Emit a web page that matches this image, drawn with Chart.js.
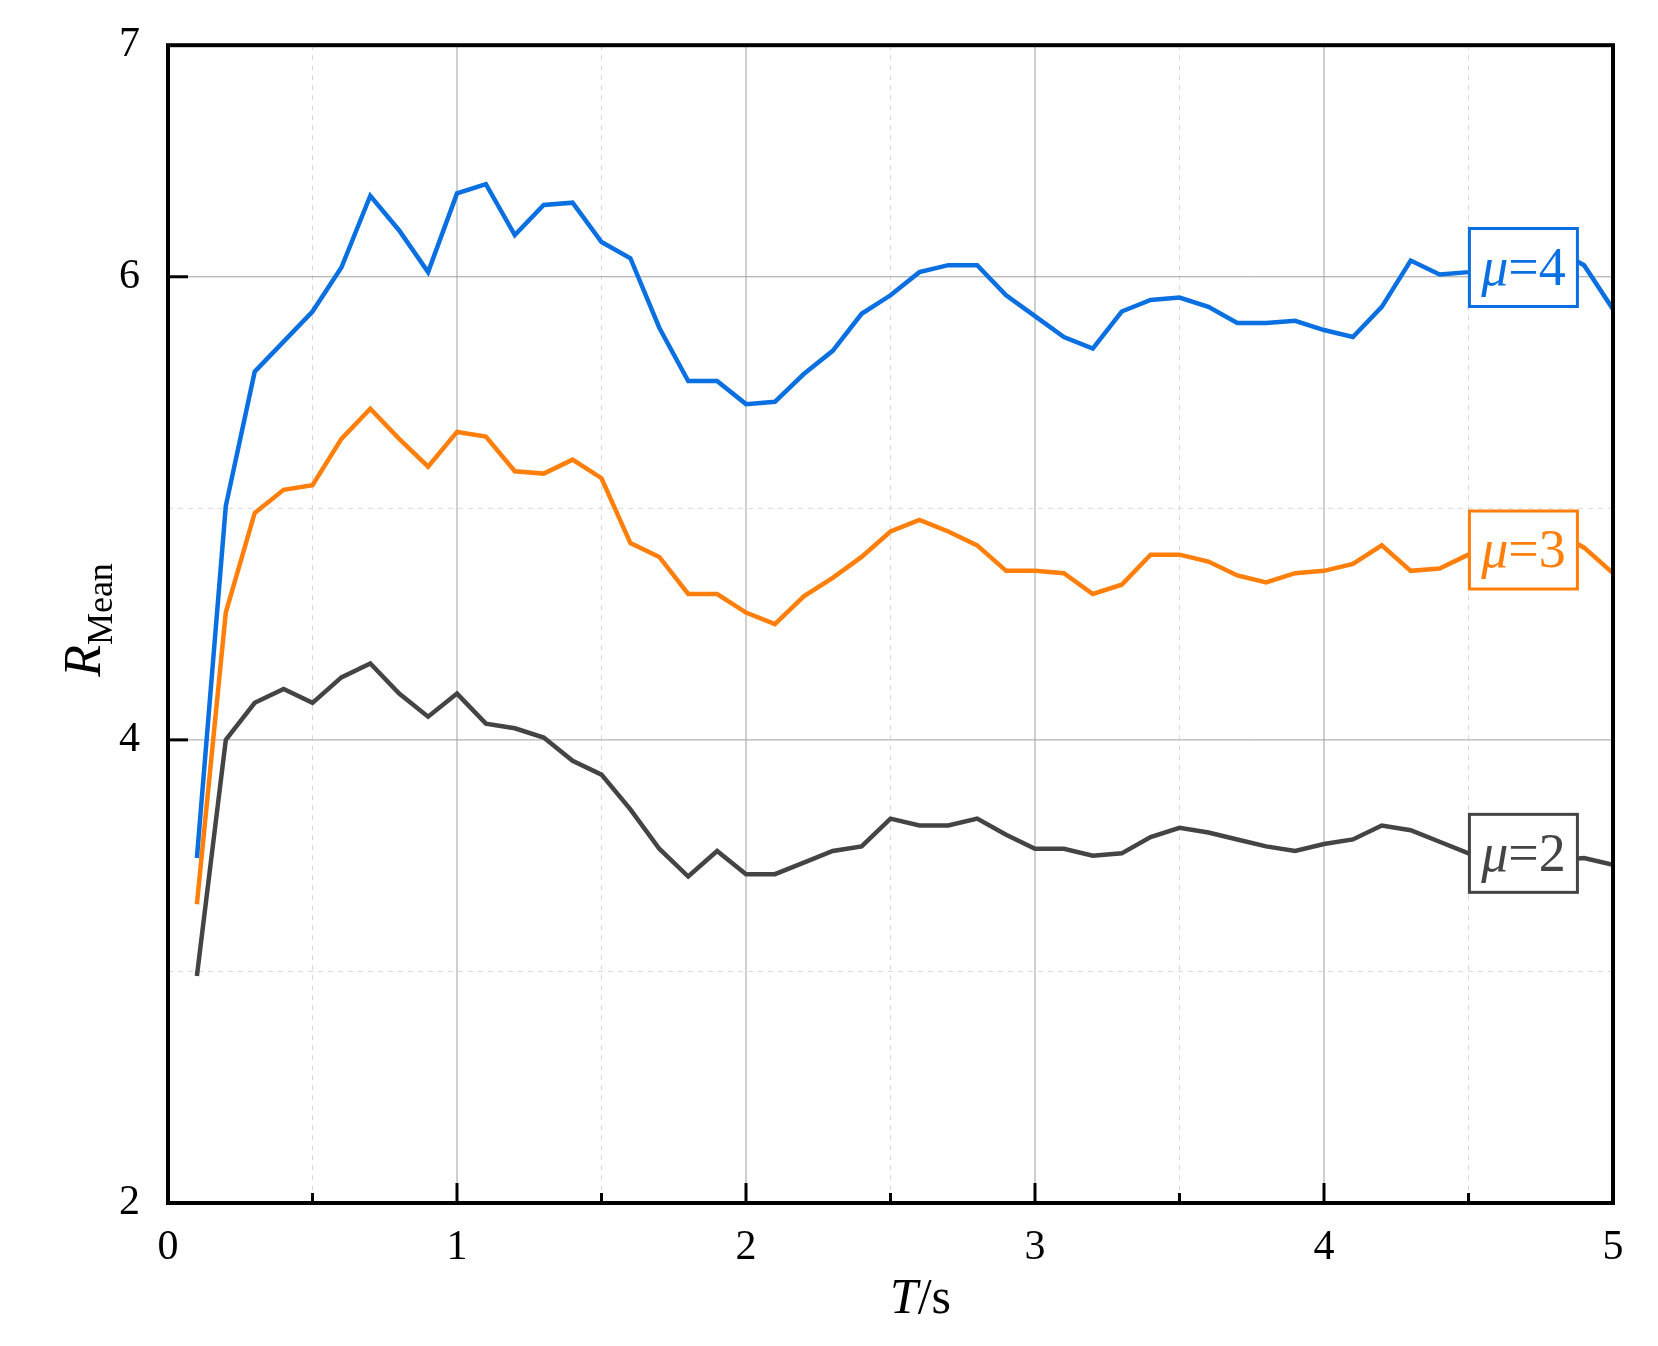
<!DOCTYPE html>
<html>
<head>
<meta charset="utf-8">
<script src="https://cdn.jsdelivr.net/npm/chart.js@4"></script>
<style>
  body { margin: 0; background: #fff; font-family: "Liberation Serif"; }
  #wrap { width: 1658px; height: 1346px; }
</style>
</head>
<body>
<div id="wrap"><canvas id="myChart"></canvas></div>
<script>
const times = [0.1,0.2,0.3,0.4,0.5,0.6,0.7,0.8,0.9,1.0,1.1,1.2,1.3,1.4,1.5,1.6,1.7,1.8,1.9,2.0,
  2.1,2.2,2.3,2.4,2.5,2.6,2.7,2.8,2.9,3.0,3.1,3.2,3.3,3.4,3.5,3.6,3.7,3.8,3.9,4.0,
  4.1,4.2,4.3,4.4,4.5,4.6,4.7,4.8,4.9,5.0];
const mu4 = [3.49,5.01,5.59,5.72,5.85,6.04,6.35,6.20,6.02,6.36,6.40,6.18,6.31,6.32,6.15,6.08,5.78,5.55,5.55,5.45,
  5.46,5.58,5.68,5.84,5.92,6.02,6.05,6.05,5.92,5.83,5.74,5.69,5.85,5.90,5.91,5.87,5.80,5.80,5.81,5.77,
  5.74,5.87,6.07,6.01,6.02,6.05,6.10,6.12,6.05,5.86];
const mu3 = [3.29,4.55,4.98,5.08,5.10,5.30,5.43,5.30,5.18,5.33,5.31,5.16,5.15,5.21,5.13,4.85,4.79,4.63,4.63,4.55,
  4.50,4.62,4.70,4.79,4.90,4.95,4.90,4.84,4.73,4.73,4.72,4.63,4.67,4.80,4.80,4.77,4.71,4.68,4.72,4.73,
  4.76,4.84,4.73,4.74,4.80,4.86,4.90,4.90,4.83,4.72];
const mu2 = [2.98,4.00,4.16,4.22,4.16,4.27,4.33,4.20,4.10,4.20,4.07,4.05,4.01,3.91,3.85,3.70,3.53,3.41,3.52,3.42,
  3.42,3.47,3.52,3.54,3.66,3.63,3.63,3.66,3.59,3.53,3.53,3.50,3.51,3.58,3.62,3.60,3.57,3.54,3.52,3.55,
  3.57,3.63,3.61,3.56,3.51,3.48,3.49,3.48,3.49,3.46];
const seriesLabels = ['μ=4', 'μ=3', 'μ=2'];
const labelPos = [[4.69, 6.04], [4.69, 4.82], [4.69, 3.51]];
const colors = ['#0a6fe0', '#ff7f0a', '#444444'];
const yTickLabels = [2, 4, 6, 7];

const serif = '"Liberation Serif", "Times New Roman", serif';

const framePlugin = {
  id: 'frame',
  beforeDatasetsDraw(chart) {
    const { ctx, chartArea: a, scales: { x, y } } = chart;
    ctx.save();
    ctx.lineWidth = 1;
    for (let v = 0.5; v < 5; v += 0.5) {
      const px = x.getPixelForValue(v);
      const major = Math.abs(v - Math.round(v)) < 1e-6;
      ctx.strokeStyle = major ? '#a0a0a0' : '#d8d8d8';
      ctx.setLineDash(major ? [] : [5, 5]);
      ctx.beginPath(); ctx.moveTo(px, a.top); ctx.lineTo(px, a.bottom); ctx.stroke();
    }
    for (let v = 3; v < 7; v++) {
      const py = y.getPixelForValue(v);
      const major = v % 2 === 0;
      ctx.strokeStyle = major ? '#a0a0a0' : '#d8d8d8';
      ctx.setLineDash(major ? [] : [5, 5]);
      ctx.beginPath(); ctx.moveTo(a.left, py); ctx.lineTo(a.right, py); ctx.stroke();
    }
    ctx.restore();
  },
  afterDatasetsDraw(chart) {
    const { ctx, chartArea: a, scales: { x, y } } = chart;
    ctx.save();
    // boxed labels
    ctx.textBaseline = 'middle';
    seriesLabels.forEach((t, i) => {
      const cx = x.getPixelForValue(labelPos[i][0]);
      const cy = y.getPixelForValue(labelPos[i][1]);
      const w = 108, h = 78;
      ctx.fillStyle = '#fff';
      ctx.fillRect(cx - w / 2, cy - h / 2, w, h);
      ctx.strokeStyle = colors[i];
      ctx.lineWidth = 3;
      ctx.strokeRect(cx - w / 2, cy - h / 2, w, h);
      ctx.fillStyle = colors[i];
      ctx.font = 'italic 54px ' + serif;
      const mw = ctx.measureText('μ').width;
      ctx.font = '54px ' + serif;
      const rw = ctx.measureText('=' + t.slice(2)).width;
      let sx = cx - (mw + rw) / 2;
      ctx.font = 'italic 54px ' + serif;
      ctx.fillText('μ', sx, cy + 3);
      ctx.font = '54px ' + serif;
      ctx.fillText('=' + t.slice(2), sx + mw, cy + 3);
    });
    // frame
    ctx.strokeStyle = '#000';
    ctx.lineWidth = 4;
    ctx.strokeRect(a.left, a.top, a.right - a.left, a.bottom - a.top);
    // ticks
    ctx.lineWidth = 3;
    for (let v = 0.5; v < 5; v += 0.5) {
      const px = x.getPixelForValue(v);
      const len = Math.abs(v - Math.round(v)) < 1e-6 ? 20 : 10;
      ctx.beginPath(); ctx.moveTo(px, a.bottom); ctx.lineTo(px, a.bottom - len); ctx.stroke();
    }
    [4, 6].forEach(v => {
      const py = y.getPixelForValue(v);
      ctx.beginPath(); ctx.moveTo(a.left, py); ctx.lineTo(a.left + 20, py); ctx.stroke();
    });
    // axis titles
    ctx.fillStyle = '#000';
    ctx.textBaseline = 'alphabetic';
    ctx.font = 'italic 50px ' + serif;
    const tw = ctx.measureText('T').width;
    ctx.font = '50px ' + serif;
    const sw = ctx.measureText('/s').width;
    const cx = (a.left + a.right) / 2 + 30;
    ctx.font = 'italic 50px ' + serif;
    ctx.fillText('T', cx - (tw + sw) / 2, 1313);
    ctx.font = '50px ' + serif;
    ctx.fillText('/s', cx - (tw + sw) / 2 + tw, 1313);
    ctx.translate(100, 620);
    ctx.rotate(-Math.PI / 2);
    ctx.font = 'italic 52px ' + serif;
    const rw = ctx.measureText('R').width;
    ctx.font = '36px ' + serif;
    const mw = ctx.measureText('Mean').width;
    const sx = -(rw + mw) / 2;
    ctx.font = 'italic 52px ' + serif;
    ctx.fillText('R', sx, 0);
    ctx.font = '36px ' + serif;
    ctx.fillText('Mean', sx + rw, 12);
    ctx.restore();
  }
};

function draw() {
  new Chart('myChart', {
    type: 'line',
    data: {
      labels: times,
      datasets: [mu4, mu3, mu2].map((d, i) => ({
        label: seriesLabels[i],
        data: times.map((t, j) => ({ x: t, y: d[j] })),
        borderColor: colors[i],
        borderWidth: 4.5,
        pointRadius: 0,
        tension: 0,
        fill: false
      }))
    },
    options: {
      responsive: true,
      maintainAspectRatio: false,
      animation: false,
      devicePixelRatio: 1,
      layout: { padding: { left: 0, right: 45, top: 39, bottom: 0 } },
      plugins: { legend: { display: false }, tooltip: { enabled: false } },
      scales: {
        x: {
          type: 'linear', min: 0, max: 5,
          grid: { display: false },
          border: { display: false },
          afterFit(s) { s.height = 143; },
          afterBuildTicks(s) { s.ticks = [0, 1, 2, 3, 4, 5].map(v => ({ value: v })); },
          ticks: { color: '#000', font: { family: serif, size: 42 }, padding: 12, maxRotation: 0 }
        },
        y: {
          min: 2, max: 7,
          grid: { display: false },
          border: { display: false },
          afterFit(s) { s.width = 168; },
          afterBuildTicks(s) { s.ticks = yTickLabels.map(v => ({ value: v })); },
          ticks: { color: '#000', font: { family: serif, size: 42 }, padding: 20 }
        }
      }
    },
    plugins: [framePlugin]
  });
}

Promise.all([
  document.fonts.load('42px "Liberation Serif"'),
  document.fonts.load('italic 42px "Liberation Serif"')
]).then(draw, draw);
</script>
</body>
</html>
